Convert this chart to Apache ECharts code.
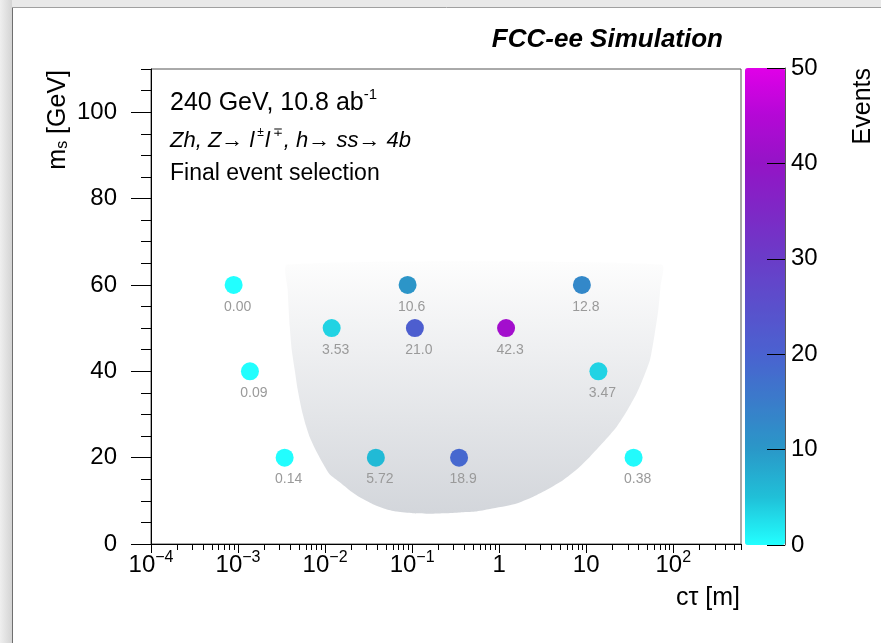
<!DOCTYPE html>
<html><head><meta charset="utf-8">
<script src="https://cdn.jsdelivr.net/npm/echarts@6/dist/echarts.min.js"></script>
<style>html,body{margin:0;padding:0;background:#fff}#c{width:881px;height:643px}</style>
</head><body><div id="c"></div>
<script>
// ---- data ----
const ctau   = [0.00089, 0.00137, 0.00343, 0.0119, 0.0383, 0.0887, 0.1076, 0.346, 1.20, 8.92, 13.8, 35.0];
const mass   = [60, 40, 20, 50, 20, 60, 50, 20, 50, 60, 40, 20];
const events = [0.00, 0.09, 0.14, 3.53, 5.72, 10.6, 21.0, 18.9, 42.3, 12.8, 3.47, 0.38];

// shaded sensitive region boundary (ctau [m], m_s [GeV])
const regionCtau = [0.00366, 0.00372, 0.00393, 0.00414, 0.00448, 0.00485, 0.00540, 0.00600, 0.00667, 0.00782,
  0.00941, 0.01133, 0.01476, 0.01924, 0.02507, 0.0354, 0.0513, 0.0668, 0.1021, 0.1603, 0.2384, 0.3549, 0.528,
  0.783, 1.52, 2.46, 3.66, 5.45, 7.77, 11.04, 15.7, 22.4, 29.4, 38.0, 46.0, 54.0, 60.8, 67.3, 71.3, 73.6];
const regionMass = [64.7, 58.9, 50.3, 44.9, 40.3, 35.7, 31.0, 27.5, 24.7, 21.7, 18.7, 16.1, 14.3, 12.4, 10.8, 9.2,
  8.0, 7.5, 7.1, 7.0, 7.1, 7.3, 7.5, 8.1, 9.26, 10.95, 12.74, 14.82, 17.25, 20.22, 23.55, 27.17, 30.85, 34.9,
  38.8, 42.6, 48.3, 54.2, 59.5, 64.7];

const xMin = 1e-4, xMax = 600;
const xMajorTicks = [1e-4, 1e-3, 1e-2, 1e-1, 1, 10, 100];
const yMin = 0, yMax = 110;
const yMajorTicks = [0, 20, 40, 60, 80, 100];
const zMin = 0, zMax = 50;
const zTicks = [0, 10, 20, 30, 40, 50];

// minor ticks
const xMinorTicks = [];
xMajorTicks.forEach(d => { for (let k = 2; k <= 9; k++) { const v = +(k * d).toPrecision(6); if (v <= xMax) xMinorTicks.push(v); } });
const yMinorTicks = [];
for (let v = yMin; v <= yMax; v += 5) yMinorTicks.push(v);

const FONT = '"Liberation Sans", Arial, Helvetica, sans-serif';
const palette = ['#22ffff', '#20c0d8', '#2a98c8', '#3a7cca', '#4a62d0', '#5a50cc', '#6a3cc8', '#7e28c6', '#9414c6', '#b408d6', '#e000e8'];

function fmtEv(v) { return v < 1 ? v.toFixed(2) : v.toPrecision(3); }
function fmtPow(v) {
  const e = Math.round(Math.log10(v));
  if (e === 0) return '{b|1}';
  if (e === 1) return '{b|10}';
  return '{b|10}{s|' + (e < 0 ? '\u2212' + (-e) : e) + '}';
}

const pts = ctau.map((c, i) => [c, mass[i], events[i]]);
const region = regionCtau.map((c, i) => [c, regionMass[i]]);

const chart = echarts.init(document.getElementById('c'), null, { renderer: 'canvas' });
chart.setOption({
  animation: false,
  backgroundColor: '#ffffff',
  grid: [
    { left: 151, top: 69, width: 590, height: 475, show: true, borderColor: '#555', borderWidth: 1, backgroundColor: 'transparent' },
    { left: 745, top: 68, width: 40, height: 477, show: false }
  ],
  xAxis: [
    { type: 'log', gridIndex: 0, min: xMin, max: xMax, position: 'bottom',
      axisLine: { show: true, onZero: false, lineStyle: { color: '#000', width: 1 } },
      axisTick: { show: true, inside: false, length: 9, customValues: xMajorTicks, lineStyle: { color: '#000' } },
      axisLabel: { show: true, customValues: xMajorTicks, margin: 6, formatter: fmtPow,
        rich: { b: { fontSize: 24, lineHeight: 24, padding: [7, 0, 0, 0], fontFamily: FONT, color: '#000' },
                s: { fontSize: 16, lineHeight: 16, verticalAlign: 'top', fontFamily: FONT, color: '#000' } } },
      splitLine: { show: false }, minorTick: { show: false } },
    { type: 'log', gridIndex: 0, min: xMin, max: xMax, position: 'bottom',
      axisLine: { show: false, onZero: false },
      axisTick: { show: true, inside: false, length: 6, customValues: xMinorTicks, lineStyle: { color: '#000' } },
      axisLabel: { show: false }, splitLine: { show: false } },
    { type: 'value', gridIndex: 1, show: false, min: 0, max: 1 }
  ],
  yAxis: [
    { type: 'value', gridIndex: 0, min: yMin, max: yMax, position: 'left',
      axisLine: { show: true, onZero: false, lineStyle: { color: '#000', width: 1 } },
      axisTick: { show: true, inside: false, length: 20, customValues: yMajorTicks, lineStyle: { color: '#000' } },
      axisLabel: { show: true, customValues: yMajorTicks, margin: 34, fontSize: 24, fontFamily: FONT, color: '#000' },
      splitLine: { show: false } },
    { type: 'value', gridIndex: 0, min: yMin, max: yMax, position: 'left',
      axisLine: { show: false, onZero: false },
      axisTick: { show: true, inside: false, length: 10, customValues: yMinorTicks, lineStyle: { color: '#000' } },
      axisLabel: { show: false }, splitLine: { show: false } },
    { type: 'value', gridIndex: 1, min: zMin, max: zMax, position: 'right', z: 10,
      axisLine: { show: true, onZero: false, lineStyle: { color: 'rgba(0,0,0,0.65)', width: 1 } },
      axisTick: { show: true, inside: true, length: 18, customValues: zTicks, lineStyle: { color: '#000' } },
      axisLabel: { show: true, customValues: zTicks, margin: 6, fontSize: 24, fontFamily: FONT, color: '#000' },
      splitLine: { show: false } }
  ],
  visualMap: [{
    type: 'continuous', min: zMin, max: zMax, dimension: 2, seriesIndex: 1,
    calculable: false, show: true, orient: 'vertical', z: 2,
    left: 745, top: 68, itemWidth: 40, itemHeight: 477, padding: 0,
    inRange: { color: palette }
  }],
  series: [
    { type: 'custom', xAxisIndex: 0, yAxisIndex: 0, z: 1, silent: true, clip: false,
      data: region,
      renderItem: function (params, api) {
        if (params.dataIndex !== 0) return null;
        const poly = region.map(p => api.coord(p));
        return { type: 'polygon', shape: { points: poly, smooth: 0.2 },
          style: { fill: new echarts.graphic.LinearGradient(0, 0, 0, 1, [
            { offset: 0, color: '#fdfdfd' }, { offset: 1, color: '#d3d6db' }]), stroke: null } };
      } },
    { type: 'scatter', xAxisIndex: 0, yAxisIndex: 0, z: 3, symbol: 'circle', symbolSize: 18,
      itemStyle: { opacity: 1 },
      data: pts,
      label: { show: true, position: 'bottom', distance: 6, offset: [4, 0], fontSize: 14, lineHeight: 14,
        fontFamily: FONT, color: '#9a9a9a', formatter: p => fmtEv(p.value[2]) } }
  ],
  graphic: [
    { type: 'rect', left: 0, top: 0, shape: { width: 881, height: 7 }, style: { fill: '#e9e9e9' }, z: 0 },
    { type: 'rect', left: 0, top: 0, shape: { width: 12, height: 643 },
      style: { fill: new echarts.graphic.LinearGradient(0, 0, 1, 0, [{ offset: 0, color: '#efefef' }, { offset: 1, color: '#d4d4d4' }]) }, z: 0 },
    { type: 'line', shape: { x1: 12.5, y1: 7, x2: 12.5, y2: 643 }, style: { stroke: '#6f6f6f', lineWidth: 1 }, z: 1 },
    { type: 'line', shape: { x1: 12, y1: 7.5, x2: 881, y2: 7.5 }, style: { stroke: '#a0a0a0', lineWidth: 1 }, z: 1 },
    { type: 'text', x: 723, y: 40, z: 5,
      style: { text: 'FCC-ee Simulation', font: 'italic bold 26px ' + FONT, fill: '#000', align: 'right', verticalAlign: 'middle' } },
    { type: 'text', x: 170, y: 100, z: 5,
      style: { text: '{a|240 GeV, 10.8 ab}{s|-1}', align: 'left', verticalAlign: 'middle',
        rich: { a: { fontSize: 25, lineHeight: 25, padding: [6, 0, 0, 0], fontFamily: FONT, fill: '#000' },
                s: { fontSize: 15, lineHeight: 15, verticalAlign: 'top', fontFamily: FONT, fill: '#000' } } } },
    { type: 'text', x: 170, y: 138, z: 5,
      style: { text: '{i|Zh, Z\u2192 l}{s|\u00b1}{i|l}{s|\u2213}{i|, h\u2192 ss\u2192 4b}', align: 'left', verticalAlign: 'middle',
        rich: { i: { fontSize: 22, lineHeight: 22, padding: [5, 0, 0, 0], fontStyle: 'italic', fontFamily: FONT, fill: '#000' },
                s: { fontSize: 12, lineHeight: 12, verticalAlign: 'top', padding: [0, 1, 0, 3], fontFamily: FONT, fill: '#000' } } } },
    { type: 'text', x: 170, y: 174, z: 5,
      style: { text: 'Final event selection', font: '23px ' + FONT, fill: '#000', align: 'left', verticalAlign: 'middle' } },
    { type: 'text', x: 58, y: 70, rotation: Math.PI / 2, z: 5,
      style: { text: '{m|m}{s|s}{m| [GeV]}', align: 'right', verticalAlign: 'middle',
        rich: { m: { fontSize: 25, lineHeight: 25, padding: [0, 0, 6, 0], verticalAlign: 'top', fontFamily: FONT, fill: '#000' },
                s: { fontSize: 16, lineHeight: 16, verticalAlign: 'bottom', fontFamily: FONT, fill: '#000' } } } },
    { type: 'text', x: 740, y: 598, z: 5,
      style: { text: 'c\u03c4 [m]', font: '25px ' + FONT, fill: '#000', align: 'right', verticalAlign: 'middle' } },
    { type: 'text', x: 863, y: 68, rotation: Math.PI / 2, z: 5,
      style: { text: 'Events', font: '25px ' + FONT, fill: '#000', align: 'right', verticalAlign: 'middle' } }
  ]
});
</script>
</body></html>
